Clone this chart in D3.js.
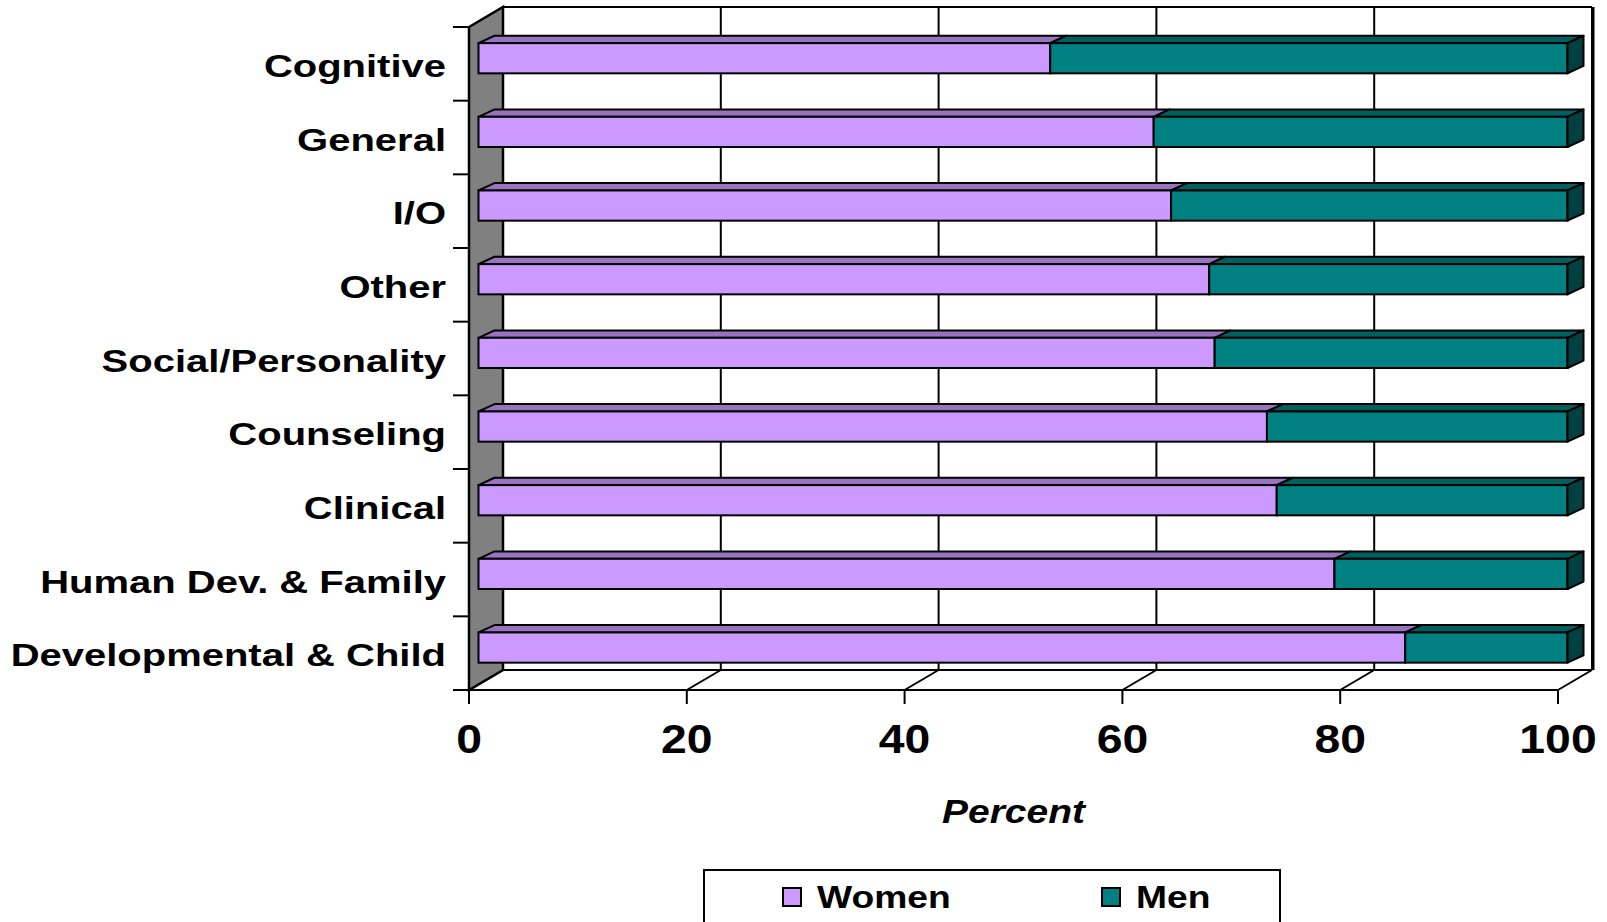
<!DOCTYPE html>
<html><head><meta charset="utf-8">
<script src="https://cdn.jsdelivr.net/npm/d3@7"></script>
<style>html,body{margin:0;padding:0;background:#fff;}svg{display:block;}</style>
</head><body>
<svg id="chart" width="1607" height="922"></svg>
<script>
const categories = ["Cognitive","General","I/O","Other","Social/Personality","Counseling","Clinical","Human Dev. & Family","Developmental & Child"];
const women = [52.5, 62.0, 63.6, 67.1, 67.6, 72.4, 73.3, 78.6, 85.1];
const men   = [47.5, 38.0, 36.4, 32.9, 32.4, 27.6, 26.7, 21.4, 14.9];
const seriesNames = ["Women","Men"];
const tickValues = [0,20,40,60,80,100];
const axisTitle = "Percent";

const svg = d3.select("#chart");
const font = "'Liberation Sans', Arial, sans-serif";
const colors = {
  Women: {front:"#CC99FF", top:"#9973BF", side:"#664D80"},
  Men:   {front:"#008080", top:"#006060", side:"#004040"}
};
// geometry
const pLeft = 469, pRight = 1558, pTop = 27, pBottom = 690;
const wallDx = 34, wallDy = -20;
const barOffDx = 9.5, barOffDy = -5.6;
const barDepthDx = 16, barDepthDy = -7.4;

const x = d3.scaleLinear().domain([0,100]).range([pLeft,pRight]);
const y = d3.scaleBand().domain(categories).range([pTop,pBottom]).paddingInner(0.59).paddingOuter(0.295);
const step = y.step();

const g = svg.append("g");
tickValues.forEach(v => {
  g.append("line").attr("x1", x(v)+wallDx).attr("x2", x(v)+wallDx)
    .attr("y1", pTop+wallDy).attr("y2", pBottom+wallDy)
    .attr("stroke","#000").attr("stroke-width",2);
  g.append("line").attr("x1", x(v)).attr("y1", pBottom)
    .attr("x2", x(v)+wallDx).attr("y2", pBottom+wallDy)
    .attr("stroke","#000").attr("stroke-width",2);
});
g.append("line").attr("x1", pLeft+wallDx).attr("x2", pRight+wallDx)
  .attr("y1", pTop+wallDy).attr("y2", pTop+wallDy).attr("stroke","#000").attr("stroke-width",2);
g.append("line").attr("x1", pLeft+wallDx).attr("x2", pRight+wallDx)
  .attr("y1", pBottom+wallDy).attr("y2", pBottom+wallDy).attr("stroke","#000").attr("stroke-width",2);
g.append("line").attr("x1", pRight+wallDx+1).attr("x2", pRight+wallDx+1)
  .attr("y1", pTop+wallDy).attr("y2", pBottom+wallDy).attr("stroke","#000").attr("stroke-width",3);
g.append("path")
  .attr("d", `M${pLeft},${pTop} L${pLeft+wallDx},${pTop+wallDy} L${pLeft+wallDx},${pBottom+wallDy} L${pLeft},${pBottom} Z`)
  .attr("fill","#808080").attr("stroke","#000").attr("stroke-width",2.5);
g.append("line").attr("x1", pLeft-16).attr("x2", pRight).attr("y1", pBottom).attr("y2", pBottom)
  .attr("stroke","#000").attr("stroke-width",2);
tickValues.forEach(v => {
  g.append("line").attr("x1", x(v)).attr("x2", x(v)).attr("y1", pBottom).attr("y2", pBottom+14)
    .attr("stroke","#000").attr("stroke-width",2);
  g.append("text").attr("transform", `translate(${x(v)},753) scale(1.13,1)`)
    .attr("text-anchor","middle").attr("font-family",font).attr("font-weight","bold")
    .attr("font-size",41).attr("fill","#000").text(v);
});
const catTicks = categories.map((c,i) => pTop + i*step).concat([pBottom]);
catTicks.forEach(t => {
  g.append("line").attr("x1", pLeft-16).attr("x2", pLeft).attr("y1", t).attr("y2", t)
    .attr("stroke","#000").attr("stroke-width",2);
});
categories.forEach((c,i) => {
  const cy = pTop + (i+0.5)*step;
  g.append("text").attr("transform", `translate(446,${cy+13}) scale(1.29,1)`)
    .attr("text-anchor","end").attr("font-family",font).attr("font-weight","bold")
    .attr("font-size",31).attr("fill","#000").text(c);
});

const bars = svg.append("g");
categories.forEach((c,i) => {
  const vals = [women[i], men[i]];
  let cum = 0;
  const y0 = y(c) + barOffDy, h = y.bandwidth();
  vals.forEach((v,j) => {
    const name = seriesNames[j];
    const xa = x(cum) + barOffDx, xb = x(cum+v) + barOffDx;
    const col = colors[name];
    bars.append("path")
      .attr("d", `M${xa},${y0} L${xa+barDepthDx},${y0+barDepthDy} L${xb+barDepthDx},${y0+barDepthDy} L${xb},${y0} Z`)
      .attr("fill", col.top).attr("stroke","#000").attr("stroke-width",2).attr("stroke-linejoin","round");
    bars.append("rect").attr("x", xa).attr("y", y0).attr("width", xb-xa).attr("height", h)
      .attr("fill", col.front).attr("stroke","#000").attr("stroke-width",2);
    if (j === vals.length-1) {
      bars.append("path")
        .attr("d", `M${xb},${y0} L${xb+barDepthDx},${y0+barDepthDy} L${xb+barDepthDx},${y0+h+barDepthDy} L${xb},${y0+h} Z`)
        .attr("fill", col.side).attr("stroke","#000").attr("stroke-width",2).attr("stroke-linejoin","round");
    }
    cum += v;
  });
});

svg.append("text").attr("transform", `translate(${(pLeft+pRight)/2},823) scale(1.18,1)`)
  .attr("text-anchor","middle").attr("font-family",font).attr("font-weight","bold")
  .attr("font-style","italic").attr("font-size",33).attr("fill","#000").text(axisTitle);

const lg = svg.append("g");
lg.append("rect").attr("x",704).attr("y",870).attr("width",576).attr("height",70)
  .attr("fill","#fff").attr("stroke","#000").attr("stroke-width",2);
const legendX = [783, 1102];
seriesNames.forEach((n,i) => {
  lg.append("rect").attr("x", legendX[i]).attr("y", 888).attr("width", 18).attr("height", 18)
    .attr("fill", colors[n].front).attr("stroke","#000").attr("stroke-width",2);
  lg.append("text").attr("transform", `translate(${legendX[i]+34},908) scale(1.2,1)`)
    .attr("font-family",font).attr("font-weight","bold").attr("font-size",31).attr("fill","#000").text(n);
});
</script>
</body></html>
